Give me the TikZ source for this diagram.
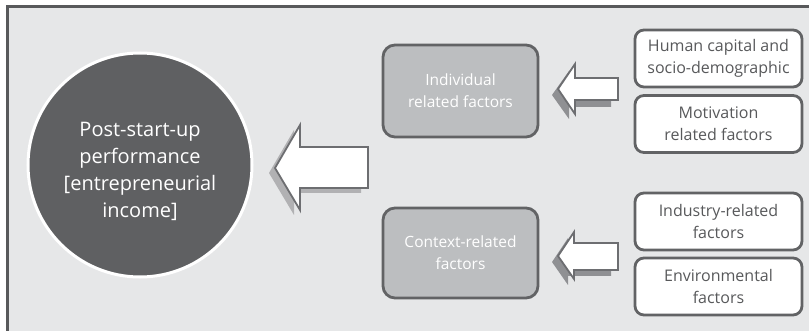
\documentclass[tikz,border=0pt]{standalone}
\usepackage{fontspec}
\setmainfont{Open Sans}
\definecolor{bggray}{HTML}{E6E7E8}
\definecolor{framegray}{HTML}{58595B}
\definecolor{circgray}{HTML}{5F6062}
\definecolor{boxgray}{HTML}{BCBEC0}
\definecolor{linegray}{HTML}{626365}
\definecolor{arrowline}{HTML}{6D6E71}
\definecolor{shadowgray}{HTML}{8F9093}
\definecolor{txtgray}{HTML}{58595B}
\begin{document}
\begin{tikzpicture}[x=1pt,y=-1pt,
  graybox/.style={draw=linegray, line width=2.8pt, fill=boxgray, rounded corners=12pt,
    text=white, align=center, font=\fontsize{15.5pt}{22pt}\selectfont, inner sep=0pt},
  whitebox/.style={draw=linegray, line width=2.8pt, fill=white, rounded corners=9pt,
    text=txtgray, align=center, font=\fontsize{16pt}{22pt}\selectfont, inner sep=0pt},
  blockarr/.style={draw=arrowline, line width=1.8pt, fill=white, line join=miter},
  arrshadow/.style={fill=shadowgray, draw=none}]
\useasboundingbox (0,0) rectangle (809,331);
% background frame
\fill[bggray] (7,7) rectangle (809,331);
\draw[framegray, line width=3pt] (7,331) -- (7,7) -- (809,7);
% circle
\node[circle, fill=circgray, draw=white, line width=3pt, minimum size=224pt, inner sep=0pt] (perf) at (140,165) {};
\node[text=white, align=center, font=\fontsize{20pt}{27pt}\selectfont, inner sep=0pt] (perftxt) at (140,171)
  {Post-start-up\\performance\\{[}entrepreneurial\\income{]}};
% middle boxes
\node[graybox, minimum width=155pt, minimum height=92pt] (ind) at (460.5,91) {Individual\\related factors};
\node[graybox, minimum width=155pt, minimum height=90pt] (ctx) at (460.5,253) {Context-related\\factors};
% right boxes
\node[whitebox, minimum width=167pt, minimum height=57pt] (hum) at (718.5,58.5) {Human capital and\\socio-demographic};
\node[whitebox, minimum width=167pt, minimum height=57pt] (mot) at (718.5,124) {Motivation\\related factors};
\node[whitebox, minimum width=167pt, minimum height=57pt] (indu) at (718.5,221.5) {Industry-related\\factors};
\node[whitebox, minimum width=167pt, minimum height=57pt] (env) at (718.5,286.5) {Environmental\\factors};
% big arrow (shadow then arrow)
\fill[arrshadow, fill=shadowgray!70] (269,173) -- (294,130) -- (294,152) -- (361,152) -- (361,193) -- (294,193) -- (294,215) -- cycle;
\draw[blockarr] (275,168) -- (300,125) -- (300,147) -- (368,147) -- (368,188) -- (300,188) -- (300,210) -- cycle;
% upper small arrow
\fill[arrshadow] (552,95) -- (569,71) -- (569,83) -- (611,83) -- (611,107) -- (569,107) -- (569,119) -- cycle;
\draw[blockarr] (558,89) -- (575,64) -- (575,78) -- (618,78) -- (618,100) -- (575,100) -- (575,114) -- cycle;
% lower small arrow
\fill[arrshadow] (552,262) -- (568,238) -- (568,249) -- (611,249) -- (611,276) -- (568,276) -- (568,285) -- cycle;
\draw[blockarr] (558,256) -- (574,232) -- (574,243) -- (618,243) -- (618,270) -- (574,270) -- (574,279) -- cycle;
\end{tikzpicture}
\end{document}
